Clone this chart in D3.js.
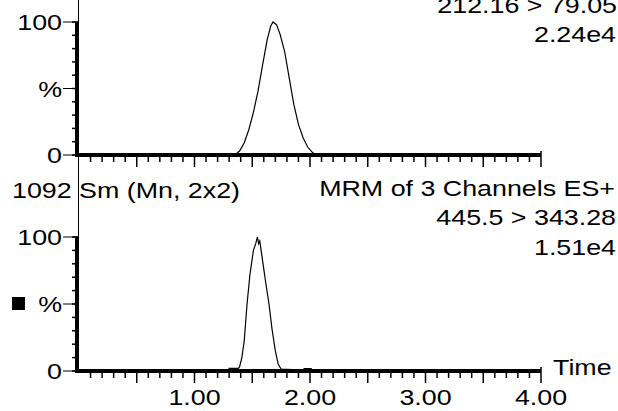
<!DOCTYPE html>
<html>
<head>
<meta charset="UTF-8">
<script src="https://d3js.org/d3.v7.min.js"></script>
<style>
  body { margin: 0; background: #fff; }
  text { font-family: "Liberation Sans", Arial, sans-serif; font-size: 22px; fill: #000; }
</style>
</head>
<body>
<div class="chart"></div>
<script>
// trace 1 : 212.16 > 79.05
const timeTop = [0, 1.35, 1.39, 1.43, 1.47, 1.51, 1.55, 1.59, 1.63, 1.66, 1.68, 1.71, 1.74, 1.78, 1.82, 1.86, 1.90, 1.94, 1.98, 2.02, 2.05, 4.0];
const pctTop  = [0, 0,    3,    9,    19,   32,   48,   68,   87,   97,   100,  98,   91,   78,   58,   38,   23,   13,   6,    2,    0,    0];
// trace 2 : 445.5 > 343.28
const timeBot = [0, 1.30, 1.30, 1.38, 1.39, 1.41, 1.43, 1.455, 1.48, 1.51, 1.53, 1.545, 1.555, 1.565, 1.59, 1.62, 1.645, 1.67, 1.70, 1.725, 1.75, 1.85, 1.94, 1.95, 2.01, 2.02, 4.0];
const pctBot  = [0, 0,    2,    2,    3,    10,   22,   50,    72,   90,   95,   100,   95,    97,    82,   64,   50,    32,   15,   5,     1.5,  1,    1,    1.8,  1.8,  0,    0];

const xTicksMajor = [1, 2, 3, 4];
const xTickLabels = ["1.00", "2.00", "3.00", "4.00"];
const yTickLabels = ["0", "%", "100"];

const W = 618, H = 411, SX = 1.22;

const svg = d3.select('.chart').append('svg').attr('width', W).attr('height', H);

const x = d3.scaleLinear().domain([0, 4]).range([79, 541]);

const panels = [
  {y: d3.scaleLinear().domain([0, 100]).range([155, 22]), t: timeTop, v: pctTop},
  {y: d3.scaleLinear().domain([0, 100]).range([371, 237]), t: timeBot, v: pctBot}
];

function label(px, py, txt, anchor) {
  svg.append('text')
    .attr('transform', 'translate(' + px + ',' + py + ') scale(' + SX + ',1)')
    .attr('text-anchor', anchor)
    .text(txt);
}

// fine vertical line joining both panels
svg.append('line').attr('x1', 78.5).attr('x2', 78.5).attr('y1', 0).attr('y2', panels[1].y(100))
  .attr('stroke', '#000').attr('stroke-width', 1);

panels.forEach(p => {
  const g = svg.append('g');
  // minor y ticks
  g.selectAll('.ymin').data(d3.range(0, 101, 10)).enter().append('line')
    .attr('x1', 72).attr('x2', 78).attr('y1', d => p.y(d)).attr('y2', d => p.y(d))
    .attr('stroke', '#000').attr('stroke-width', 1.5);
  // major y ticks
  g.selectAll('.ymaj').data([0, 50, 100]).enter().append('line')
    .attr('x1', 63).attr('x2', 78).attr('y1', d => p.y(d)).attr('y2', d => p.y(d))
    .attr('stroke', '#000').attr('stroke-width', 1);
  // x ticks
  g.selectAll('.xmin').data(d3.range(1, 41).map(i => i / 10)).enter().append('line')
    .attr('x1', d => x(d)).attr('x2', d => x(d))
    .attr('y1', p.y(0)).attr('y2', d => p.y(0) + (Math.round(d * 10) % 5 === 0 ? 12 : 7))
    .attr('stroke', '#000').attr('stroke-width', 1.5);
  // axes (thick)
  g.append('line').attr('x1', 77).attr('x2', 77).attr('y1', p.y(100)).attr('y2', p.y(0) + 2)
    .attr('stroke', '#000').attr('stroke-width', 4);
  g.append('line').attr('x1', 76).attr('x2', x(4)).attr('y1', p.y(0)).attr('y2', p.y(0))
    .attr('stroke', '#000').attr('stroke-width', 4);
  g.append('line').attr('x1', x(4)).attr('x2', x(4)).attr('y1', p.y(0) - 4).attr('y2', p.y(0))
    .attr('stroke', '#000').attr('stroke-width', 1.5);
  // trace
  const line = d3.line().x((d, i) => x(p.t[i])).y(d => p.y(d));
  g.append('path').datum(p.v).attr('d', line)
    .attr('fill', 'none').attr('stroke', '#000').attr('stroke-width', 1.2);
  // y labels
  [0, 50, 100].forEach((d, i) => label(62, p.y(d) + 8, yTickLabels[i], 'end'));
});

// x tick labels (bottom panel only)
xTicksMajor.forEach((d, i) => label(x(d), 405, xTickLabels[i], 'middle'));
label(553, 375, 'Time', 'start');

// headers
label(617, 13, '212.16 > 79.05', 'end');
label(616, 42, '2.24e4', 'end');
label(12, 198, '1092 Sm (Mn, 2x2)', 'start');
label(615, 196, 'MRM of 3 Channels ES+', 'end');
label(616, 225, '445.5 > 343.28', 'end');
label(616, 255, '1.51e4', 'end');

svg.append('rect').attr('x', 12).attr('y', 297).attr('width', 13).attr('height', 13).attr('fill', '#000');
</script>
</body>
</html>
